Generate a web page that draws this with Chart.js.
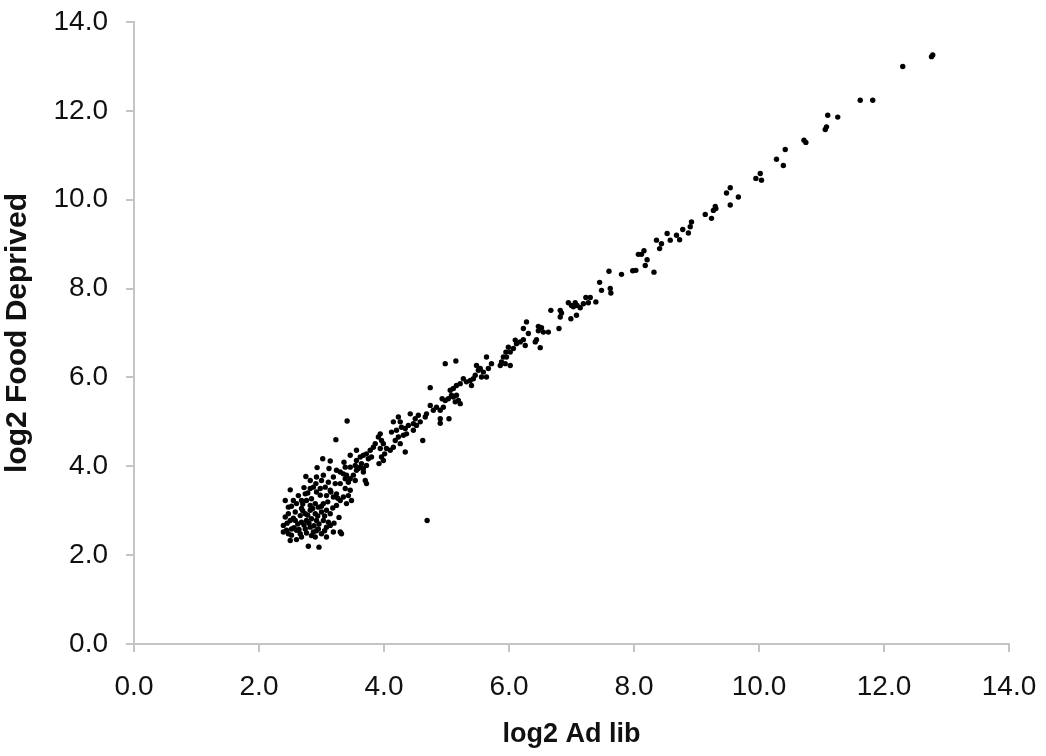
<!DOCTYPE html>
<html>
<head>
<meta charset="utf-8">
<title>log2 Food Deprived vs log2 Ad lib</title>
<script src="https://cdn.jsdelivr.net/npm/chart.js@4"></script>
<style>
  html, body { margin: 0; padding: 0; background: #fff; }
  #wrap { width: 1046px; height: 756px; }
</style>
</head>
<body>
<div id="wrap"><canvas id="scatter" width="1046" height="756"></canvas></div>
<script>
// log2 expression: ad lib (x) vs food deprived (y)
// high-expression tail
const tailAdLib = [
  12.78, 12.76, 12.30, 11.82, 11.62, 11.26, 11.10, 11.08, 11.06, 10.75,
  10.72, 10.42, 10.39, 10.28, 10.04, 10.02, 9.95, 9.67, 9.54, 9.54,
  9.48, 9.31, 9.30, 9.27, 9.24, 9.14, 8.92, 8.90, 8.87, 8.78,
  8.73, 8.68, 8.58, 8.53, 8.44, 8.41, 8.36, 8.32, 8.21, 8.18,
  8.16, 8.12, 8.07, 8.03, 7.98, 7.80, 7.60, 7.63, 7.62, 7.48,
  7.45, 7.39, 7.30, 7.27, 7.23, 7.19, 7.14, 7.09, 7.08, 7.06,
  7.03, 7.00, 6.99, 6.95, 6.84, 6.82, 6.82, 6.80, 6.67, 6.63,
  6.55, 6.52, 6.50, 6.47, 6.47, 6.44, 6.42, 6.31, 6.28, 6.26,
  6.23, 6.23, 6.18, 6.12, 6.10, 6.07, 6.02, 6.02, 5.99, 5.96,
  5.95, 5.94, 5.91, 5.88, 5.86, 5.72, 5.67, 5.64, 5.64, 5.59,
  5.56, 5.54, 5.51, 5.48, 5.46, 5.43, 5.40, 5.38, 5.32, 5.27,
  5.22, 5.16, 5.15, 5.11, 4.98, 4.74
];
const tailFoodDeprived = [
  13.26, 13.22, 13.00, 12.24, 12.24, 11.86, 11.90, 11.64, 11.58, 11.29,
  11.34, 11.13, 10.77, 10.91, 10.44, 10.59, 10.48, 10.06, 10.27, 9.88,
  10.15, 9.80, 9.85, 9.76, 9.58, 9.67, 9.50, 9.39, 9.25, 9.33,
  9.10, 9.20, 9.09, 9.24, 9.01, 8.90, 9.09, 8.37, 8.65, 8.52,
  8.85, 8.77, 8.77, 8.41, 8.40, 8.32, 8.39, 7.90, 8.00, 7.96,
  8.14, 7.70, 7.80, 7.68, 7.80, 7.66, 7.57, 7.62, 7.40, 7.68,
  7.59, 7.62, 7.32, 7.68, 7.45, 7.51, 7.36, 7.10, 7.51, 7.02,
  7.02, 7.12, 6.67, 7.15, 7.05, 6.85, 6.80, 6.99, 7.25, 6.72,
  7.10, 6.85, 6.80, 6.76, 6.84, 6.65, 6.57, 6.27, 6.68, 6.46,
  6.57, 6.31, 6.46, 6.35, 6.27, 6.31, 6.20, 6.46, 6.01, 6.12,
  6.01, 6.20, 6.16, 6.27, 6.05, 5.97, 5.82, 5.93, 5.90, 5.97,
  5.86, 5.82, 6.37, 5.75, 6.31, 5.77
];

// mid range, including the lone low outlier near 4.7
const midAdLib = [
  5.22, 5.19, 5.16, 5.14, 5.11, 5.08, 5.06, 5.04, 5.03, 4.98,
  4.95, 4.93, 4.90, 4.90, 4.90, 4.84, 4.79, 4.74, 4.69, 4.68,
  4.66, 4.62, 4.58, 4.55, 4.52, 4.50, 4.47, 4.47, 4.42, 4.39,
  4.36, 4.34, 4.34, 4.31, 4.28, 4.26, 4.26, 4.23, 4.23, 4.20,
  4.18, 4.15, 4.15, 4.12, 4.10, 4.04, 4.01, 3.99, 3.99, 3.96,
  3.96, 3.94, 3.94, 3.92, 3.91, 3.86, 3.83, 3.80, 3.78, 3.75,
  3.72, 3.72, 3.67, 3.67, 3.64, 3.62, 3.59, 3.56, 3.56, 3.54,
  3.46, 3.41, 3.36, 3.23
];
const midFoodDeprived = [
  5.41, 5.48, 5.60, 5.45, 5.56, 5.60, 5.71, 5.07, 5.52, 5.48,
  5.33, 5.52, 5.26, 5.07, 4.97, 5.33, 5.26, 5.37, 2.78, 5.18,
  5.11, 4.58, 5.00, 5.15, 4.92, 5.07, 4.96, 4.81, 5.18, 4.92,
  4.73, 4.85, 4.32, 4.70, 4.88, 5.00, 4.51, 5.11, 4.66, 4.81,
  4.58, 5.00, 4.43, 4.77, 4.36, 4.40, 4.28, 4.51, 4.13, 4.58,
  4.21, 4.73, 4.40, 4.06, 4.66, 4.51, 4.43, 4.21, 4.36, 4.17,
  4.28, 4.02, 4.25, 3.95, 4.06, 4.21, 3.95, 4.13, 4.36, 4.02,
  4.25, 5.02, 4.09, 4.60
];

// dense low-expression cluster
const lowAdLib = [
  3.14, 3.12, 3.02, 2.93, 3.70, 3.72, 3.67, 3.62, 3.56, 3.54,
  3.51, 3.48, 3.46, 3.46, 3.46, 3.43, 3.43, 3.40, 3.40, 3.38,
  3.38, 3.38, 3.35, 3.35, 3.32, 3.30, 3.30, 3.30, 3.30, 3.28,
  3.26, 3.24, 3.24, 3.24, 3.22, 3.20, 3.19, 3.19, 3.19, 3.18,
  3.15, 3.14, 3.14, 3.14, 3.11, 3.11, 3.10, 3.08, 3.08, 3.08,
  3.08, 3.06, 3.05, 3.05, 3.03, 3.03, 3.03, 3.00, 3.00, 3.00,
  3.00, 2.98, 2.98, 2.96, 2.96, 2.95, 2.95, 2.94, 2.92, 2.92,
  2.92, 2.92, 2.91, 2.90, 2.90, 2.90, 2.88, 2.87, 2.87, 2.86,
  2.84, 2.84, 2.84, 2.82, 2.82, 2.82, 2.82, 2.82, 2.80, 2.79,
  2.78, 2.78, 2.76, 2.76, 2.76, 2.75, 2.74, 2.74, 2.74, 2.72,
  2.72, 2.70, 2.70, 2.68, 2.68, 2.68, 2.68, 2.66, 2.66, 2.64,
  2.63, 2.62, 2.60, 2.60, 2.60, 2.58, 2.58, 2.56, 2.55, 2.55,
  2.52, 2.52, 2.52, 2.50, 2.50, 2.50, 2.47, 2.47, 2.47, 2.45,
  2.44, 2.42, 2.42, 2.39, 2.39
];
const lowFoodDeprived = [
  4.12, 3.95, 4.17, 3.97, 3.68, 3.61, 3.87, 3.98, 3.91, 3.68,
  3.80, 3.23, 3.98, 3.72, 3.46, 3.64, 3.34, 3.80, 3.16, 3.98,
  3.72, 3.50, 3.83, 3.31, 2.48, 3.87, 3.61, 3.23, 2.52, 2.85,
  3.28, 3.91, 3.38, 3.12, 3.61, 2.72, 3.76, 3.31, 2.52, 3.06,
  3.42, 3.46, 2.93, 2.67, 3.64, 2.74, 3.20, 3.34, 3.01, 2.63,
  2.41, 3.53, 2.88, 2.55, 3.80, 3.16, 2.78, 3.68, 3.10, 2.97,
  2.48, 3.50, 3.35, 2.70, 2.18, 3.08, 2.59, 2.88, 3.76, 3.42,
  2.78, 2.55, 3.61, 3.16, 2.93, 2.41, 2.66, 3.53, 2.52, 3.05,
  3.27, 2.82, 2.44, 3.68, 3.50, 3.12, 3.01, 2.63, 2.72, 2.20,
  3.40, 2.90, 3.23, 2.78, 2.50, 3.77, 3.38, 2.93, 2.59, 3.52,
  2.68, 3.15, 3.00, 3.23, 3.05, 2.74, 2.41, 2.89, 2.48, 2.58,
  3.34, 2.70, 3.16, 2.56, 2.35, 2.97, 2.78, 2.62, 3.23, 2.83,
  3.10, 2.59, 2.45, 3.47, 2.78, 2.33, 3.08, 2.93, 2.48, 2.72,
  2.56, 3.23, 2.86, 2.67, 2.52
];

const axisMin = 0;
const axisMax = 14;
const axisStep = 2;

const adLib = tailAdLib.concat(midAdLib, lowAdLib);
const foodDeprived = tailFoodDeprived.concat(midFoodDeprived, lowFoodDeprived);
const points = adLib.map((x, i) => ({ x: x, y: foodDeprived[i] }));

const axisGrey = "#c4c4c4";
const fontFamily = "'Liberation Sans', Arial, sans-serif";
const tickFont = { family: fontFamily, size: 28 };

function axis(title, side, titleSize) {
  return {
    type: "linear",
    position: side,
    min: axisMin,
    max: axisMax,
    border: { color: axisGrey, width: 2 },
    grid: { drawOnChartArea: false, drawTicks: true, tickLength: 8, color: axisGrey, lineWidth: 2 },
    ticks: {
      stepSize: axisStep,
      color: "#111",
      font: tickFont,
      padding: 18,
      maxRotation: 0,
      callback: v => v.toFixed(1),
    },
    title: {
      display: true,
      text: title,
      color: "#111",
      font: { family: fontFamily, size: titleSize, weight: "bold" },
      padding: side === "left" ? { top: 0, bottom: 0 } : { top: 0, bottom: 5 },
    },
    afterFit: s => {
      if (side === "left") s.width = 134;
      else s.height = 112;
      // the end labels may overhang the plot; the outer padding is set by layout
      s.paddingTop = 0;
      s.paddingBottom = 0;
      s.paddingLeft = 0;
      s.paddingRight = 0;
    },
  };
}

new Chart(document.getElementById("scatter"), {
  type: "scatter",
  data: {
    datasets: [{
      data: points,
      pointRadius: 2.7,
      pointHoverRadius: 2.7,
      pointBackgroundColor: "#000",
      pointBorderWidth: 0,
    }],
  },
  options: {
    responsive: false,
    animation: false,
    devicePixelRatio: 1,
    layout: { padding: { top: 22, right: 37, left: 0, bottom: 0 } },
    plugins: { legend: { display: false }, tooltip: { enabled: false } },
    scales: {
      x: axis("log2 Ad lib", "bottom", 27),
      y: axis("log2 Food Deprived", "left", 30),
    },
  },
});
</script>
</body>
</html>
